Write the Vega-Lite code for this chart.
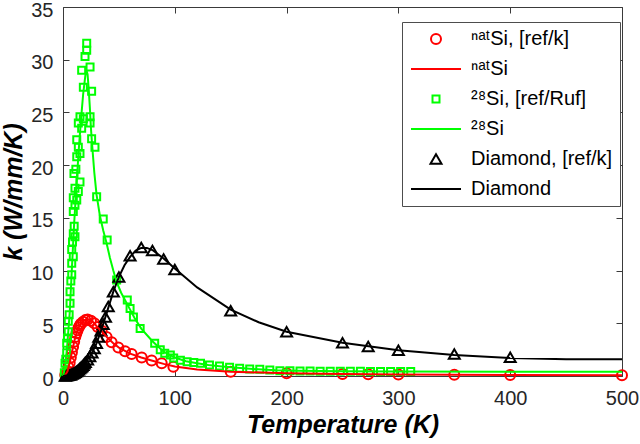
{
  "$schema": "https://vega.github.io/schema/vega-lite/v6.json",
  "width": 559,
  "height": 369,
  "autosize": {"type": "none"},
  "padding": {"left": 63, "top": 7, "right": 18, "bottom": 68},
  "background": "white",
  "datasets": {
    "measured": [
      {"series": "ⁿᵃᵗSi, [ref/k]", "T": 2, "k": 0.1}, {"series": "ⁿᵃᵗSi, [ref/k]", "T": 3, "k": 0.2},
      {"series": "ⁿᵃᵗSi, [ref/k]", "T": 4, "k": 0.45}, {"series": "ⁿᵃᵗSi, [ref/k]", "T": 5, "k": 0.8},
      {"series": "ⁿᵃᵗSi, [ref/k]", "T": 6, "k": 1.25}, {"series": "ⁿᵃᵗSi, [ref/k]", "T": 7, "k": 1.75},
      {"series": "ⁿᵃᵗSi, [ref/k]", "T": 8, "k": 2.25}, {"series": "ⁿᵃᵗSi, [ref/k]", "T": 9, "k": 2.75},
      {"series": "ⁿᵃᵗSi, [ref/k]", "T": 10, "k": 3.25}, {"series": "ⁿᵃᵗSi, [ref/k]", "T": 11, "k": 3.7},
      {"series": "ⁿᵃᵗSi, [ref/k]", "T": 12, "k": 4.05}, {"series": "ⁿᵃᵗSi, [ref/k]", "T": 13, "k": 4.35},
      {"series": "ⁿᵃᵗSi, [ref/k]", "T": 14, "k": 4.6}, {"series": "ⁿᵃᵗSi, [ref/k]", "T": 15, "k": 4.8},
      {"series": "ⁿᵃᵗSi, [ref/k]", "T": 16, "k": 4.95}, {"series": "ⁿᵃᵗSi, [ref/k]", "T": 18, "k": 5.15},
      {"series": "ⁿᵃᵗSi, [ref/k]", "T": 20, "k": 5.3}, {"series": "ⁿᵃᵗSi, [ref/k]", "T": 22, "k": 5.35},
      {"series": "ⁿᵃᵗSi, [ref/k]", "T": 25, "k": 5.25}, {"series": "ⁿᵃᵗSi, [ref/k]", "T": 28, "k": 5.0},
      {"series": "ⁿᵃᵗSi, [ref/k]", "T": 31, "k": 4.65}, {"series": "ⁿᵃᵗSi, [ref/k]", "T": 34.6, "k": 4.3},
      {"series": "ⁿᵃᵗSi, [ref/k]", "T": 39, "k": 3.7}, {"series": "ⁿᵃᵗSi, [ref/k]", "T": 43.5, "k": 3.2},
      {"series": "ⁿᵃᵗSi, [ref/k]", "T": 49.5, "k": 2.7}, {"series": "ⁿᵃᵗSi, [ref/k]", "T": 55.5, "k": 2.35},
      {"series": "ⁿᵃᵗSi, [ref/k]", "T": 61.4, "k": 2.08}, {"series": "ⁿᵃᵗSi, [ref/k]", "T": 70.4, "k": 1.75},
      {"series": "ⁿᵃᵗSi, [ref/k]", "T": 79.3, "k": 1.48}, {"series": "ⁿᵃᵗSi, [ref/k]", "T": 88.3, "k": 1.2},
      {"series": "ⁿᵃᵗSi, [ref/k]", "T": 98.7, "k": 0.88}, {"series": "ⁿᵃᵗSi, [ref/k]", "T": 150, "k": 0.41},
      {"series": "ⁿᵃᵗSi, [ref/k]", "T": 200, "k": 0.26}, {"series": "ⁿᵃᵗSi, [ref/k]", "T": 250, "k": 0.19},
      {"series": "ⁿᵃᵗSi, [ref/k]", "T": 273, "k": 0.17}, {"series": "ⁿᵃᵗSi, [ref/k]", "T": 300, "k": 0.15},
      {"series": "ⁿᵃᵗSi, [ref/k]", "T": 350, "k": 0.12}, {"series": "ⁿᵃᵗSi, [ref/k]", "T": 400, "k": 0.1},
      {"series": "ⁿᵃᵗSi, [ref/k]", "T": 500, "k": 0.08},

      {"series": "²⁸Si, [ref/Ruf]", "T": 1.2, "k": 0.3}, {"series": "²⁸Si, [ref/Ruf]", "T": 1.8, "k": 1.2},
      {"series": "²⁸Si, [ref/Ruf]", "T": 2.5, "k": 1.6}, {"series": "²⁸Si, [ref/Ruf]", "T": 3.3, "k": 2.2},
      {"series": "²⁸Si, [ref/Ruf]", "T": 3.3, "k": 3.1}, {"series": "²⁸Si, [ref/Ruf]", "T": 4, "k": 3.6},
      {"series": "²⁸Si, [ref/Ruf]", "T": 4.7, "k": 4.2}, {"series": "²⁸Si, [ref/Ruf]", "T": 4.7, "k": 5.2},
      {"series": "²⁸Si, [ref/Ruf]", "T": 5.5, "k": 5.8}, {"series": "²⁸Si, [ref/Ruf]", "T": 6.3, "k": 6.9},
      {"series": "²⁸Si, [ref/Ruf]", "T": 6.3, "k": 8.0}, {"series": "²⁸Si, [ref/Ruf]", "T": 7, "k": 9.0},
      {"series": "²⁸Si, [ref/Ruf]", "T": 7.8, "k": 9.6}, {"series": "²⁸Si, [ref/Ruf]", "T": 7.8, "k": 10.7},
      {"series": "²⁸Si, [ref/Ruf]", "T": 9.2, "k": 11.3}, {"series": "²⁸Si, [ref/Ruf]", "T": 7.8, "k": 12.0},
      {"series": "²⁸Si, [ref/Ruf]", "T": 8.5, "k": 12.7}, {"series": "²⁸Si, [ref/Ruf]", "T": 9.2, "k": 13.5},
      {"series": "²⁸Si, [ref/Ruf]", "T": 10.7, "k": 13.2}, {"series": "²⁸Si, [ref/Ruf]", "T": 10, "k": 14.2},
      {"series": "²⁸Si, [ref/Ruf]", "T": 9.2, "k": 15.6}, {"series": "²⁸Si, [ref/Ruf]", "T": 9.2, "k": 16.9},
      {"series": "²⁸Si, [ref/Ruf]", "T": 10.7, "k": 16.2}, {"series": "²⁸Si, [ref/Ruf]", "T": 12.3, "k": 16.7},
      {"series": "²⁸Si, [ref/Ruf]", "T": 10.7, "k": 17.8}, {"series": "²⁸Si, [ref/Ruf]", "T": 13.7, "k": 17.5},
      {"series": "²⁸Si, [ref/Ruf]", "T": 15.2, "k": 18.4}, {"series": "²⁸Si, [ref/Ruf]", "T": 9.8, "k": 19.2},
      {"series": "²⁸Si, [ref/Ruf]", "T": 11.5, "k": 19.6}, {"series": "²⁸Si, [ref/Ruf]", "T": 12.3, "k": 20.8},
      {"series": "²⁸Si, [ref/Ruf]", "T": 15.2, "k": 21.1}, {"series": "²⁸Si, [ref/Ruf]", "T": 13.7, "k": 21.7},
      {"series": "²⁸Si, [ref/Ruf]", "T": 12.3, "k": 22.4}, {"series": "²⁸Si, [ref/Ruf]", "T": 16.7, "k": 23.5},
      {"series": "²⁸Si, [ref/Ruf]", "T": 13.7, "k": 24.0}, {"series": "²⁸Si, [ref/Ruf]", "T": 15.2, "k": 24.6},
      {"series": "²⁸Si, [ref/Ruf]", "T": 18.2, "k": 24.4}, {"series": "²⁸Si, [ref/Ruf]", "T": 18.2, "k": 27.4},
      {"series": "²⁸Si, [ref/Ruf]", "T": 16.7, "k": 29.0}, {"series": "²⁸Si, [ref/Ruf]", "T": 19.7, "k": 30.3},
      {"series": "²⁸Si, [ref/Ruf]", "T": 21.2, "k": 30.9}, {"series": "²⁸Si, [ref/Ruf]", "T": 21.2, "k": 31.55},
      {"series": "²⁸Si, [ref/Ruf]", "T": 24.2, "k": 29.3}, {"series": "²⁸Si, [ref/Ruf]", "T": 25.6, "k": 27.0},
      {"series": "²⁸Si, [ref/Ruf]", "T": 24.2, "k": 24.6}, {"series": "²⁸Si, [ref/Ruf]", "T": 24.2, "k": 24.0},
      {"series": "²⁸Si, [ref/Ruf]", "T": 25.6, "k": 22.5}, {"series": "²⁸Si, [ref/Ruf]", "T": 28.6, "k": 21.7},
      {"series": "²⁸Si, [ref/Ruf]", "T": 30.1, "k": 17.0}, {"series": "²⁸Si, [ref/Ruf]", "T": 36, "k": 14.9},
      {"series": "²⁸Si, [ref/Ruf]", "T": 39.5, "k": 12.9}, {"series": "²⁸Si, [ref/Ruf]", "T": 48, "k": 9.1},
      {"series": "²⁸Si, [ref/Ruf]", "T": 57.5, "k": 7.2}, {"series": "²⁸Si, [ref/Ruf]", "T": 60, "k": 6.4},
      {"series": "²⁸Si, [ref/Ruf]", "T": 63, "k": 5.6}, {"series": "²⁸Si, [ref/Ruf]", "T": 69, "k": 4.5},
      {"series": "²⁸Si, [ref/Ruf]", "T": 82, "k": 3.1}, {"series": "²⁸Si, [ref/Ruf]", "T": 87, "k": 2.5},
      {"series": "²⁸Si, [ref/Ruf]", "T": 91, "k": 2.15}, {"series": "²⁸Si, [ref/Ruf]", "T": 96, "k": 2.0},
      {"series": "²⁸Si, [ref/Ruf]", "T": 99, "k": 1.7}, {"series": "²⁸Si, [ref/Ruf]", "T": 105, "k": 1.5},
      {"series": "²⁸Si, [ref/Ruf]", "T": 111, "k": 1.36}, {"series": "²⁸Si, [ref/Ruf]", "T": 117, "k": 1.28},
      {"series": "²⁸Si, [ref/Ruf]", "T": 123, "k": 1.2}, {"series": "²⁸Si, [ref/Ruf]", "T": 131, "k": 1.04},
      {"series": "²⁸Si, [ref/Ruf]", "T": 140, "k": 0.95}, {"series": "²⁸Si, [ref/Ruf]", "T": 149, "k": 0.82},
      {"series": "²⁸Si, [ref/Ruf]", "T": 158, "k": 0.73}, {"series": "²⁸Si, [ref/Ruf]", "T": 167, "k": 0.66},
      {"series": "²⁸Si, [ref/Ruf]", "T": 176, "k": 0.63}, {"series": "²⁸Si, [ref/Ruf]", "T": 185, "k": 0.57},
      {"series": "²⁸Si, [ref/Ruf]", "T": 194, "k": 0.5}, {"series": "²⁸Si, [ref/Ruf]", "T": 203, "k": 0.5},
      {"series": "²⁸Si, [ref/Ruf]", "T": 212, "k": 0.48}, {"series": "²⁸Si, [ref/Ruf]", "T": 221, "k": 0.47},
      {"series": "²⁸Si, [ref/Ruf]", "T": 230, "k": 0.46}, {"series": "²⁸Si, [ref/Ruf]", "T": 239, "k": 0.45},
      {"series": "²⁸Si, [ref/Ruf]", "T": 248, "k": 0.45}, {"series": "²⁸Si, [ref/Ruf]", "T": 257, "k": 0.44},
      {"series": "²⁸Si, [ref/Ruf]", "T": 266, "k": 0.44}, {"series": "²⁸Si, [ref/Ruf]", "T": 275, "k": 0.43},
      {"series": "²⁸Si, [ref/Ruf]", "T": 284, "k": 0.43}, {"series": "²⁸Si, [ref/Ruf]", "T": 293, "k": 0.42},
      {"series": "²⁸Si, [ref/Ruf]", "T": 302, "k": 0.42}, {"series": "²⁸Si, [ref/Ruf]", "T": 311, "k": 0.42},

      {"series": "Diamond, [ref/k]", "T": 2, "k": 0.01}, {"series": "Diamond, [ref/k]", "T": 3, "k": 0.02},
      {"series": "Diamond, [ref/k]", "T": 4, "k": 0.04}, {"series": "Diamond, [ref/k]", "T": 5, "k": 0.06},
      {"series": "Diamond, [ref/k]", "T": 6, "k": 0.09}, {"series": "Diamond, [ref/k]", "T": 7, "k": 0.13},
      {"series": "Diamond, [ref/k]", "T": 8, "k": 0.18}, {"series": "Diamond, [ref/k]", "T": 9, "k": 0.23},
      {"series": "Diamond, [ref/k]", "T": 10, "k": 0.29}, {"series": "Diamond, [ref/k]", "T": 11, "k": 0.36},
      {"series": "Diamond, [ref/k]", "T": 12, "k": 0.43}, {"series": "Diamond, [ref/k]", "T": 13, "k": 0.51},
      {"series": "Diamond, [ref/k]", "T": 14, "k": 0.6}, {"series": "Diamond, [ref/k]", "T": 15, "k": 0.7},
      {"series": "Diamond, [ref/k]", "T": 16, "k": 0.8}, {"series": "Diamond, [ref/k]", "T": 17, "k": 0.91},
      {"series": "Diamond, [ref/k]", "T": 18, "k": 1.03}, {"series": "Diamond, [ref/k]", "T": 19, "k": 1.16},
      {"series": "Diamond, [ref/k]", "T": 20, "k": 1.3}, {"series": "Diamond, [ref/k]", "T": 22, "k": 1.55},
      {"series": "Diamond, [ref/k]", "T": 24, "k": 1.85}, {"series": "Diamond, [ref/k]", "T": 26, "k": 2.2},
      {"series": "Diamond, [ref/k]", "T": 28, "k": 2.6}, {"series": "Diamond, [ref/k]", "T": 30, "k": 3.1},
      {"series": "Diamond, [ref/k]", "T": 32, "k": 3.7}, {"series": "Diamond, [ref/k]", "T": 34, "k": 4.3},
      {"series": "Diamond, [ref/k]", "T": 36, "k": 4.9}, {"series": "Diamond, [ref/k]", "T": 38, "k": 5.6},
      {"series": "Diamond, [ref/k]", "T": 40.5, "k": 6.6}, {"series": "Diamond, [ref/k]", "T": 45, "k": 8.0},
      {"series": "Diamond, [ref/k]", "T": 50, "k": 9.4}, {"series": "Diamond, [ref/k]", "T": 60, "k": 11.4},
      {"series": "Diamond, [ref/k]", "T": 70, "k": 12.2}, {"series": "Diamond, [ref/k]", "T": 80, "k": 11.9},
      {"series": "Diamond, [ref/k]", "T": 90, "k": 11.1}, {"series": "Diamond, [ref/k]", "T": 100, "k": 10.1},
      {"series": "Diamond, [ref/k]", "T": 150, "k": 6.2}, {"series": "Diamond, [ref/k]", "T": 200, "k": 4.2},
      {"series": "Diamond, [ref/k]", "T": 250, "k": 3.15}, {"series": "Diamond, [ref/k]", "T": 273, "k": 2.8},
      {"series": "Diamond, [ref/k]", "T": 300, "k": 2.45}, {"series": "Diamond, [ref/k]", "T": 350, "k": 2.08},
      {"series": "Diamond, [ref/k]", "T": 400, "k": 1.77}
    ],
    "model": [
      {"series": "ⁿᵃᵗSi", "T": 0, "k": 0}, {"series": "ⁿᵃᵗSi", "T": 2, "k": 0.1},
      {"series": "ⁿᵃᵗSi", "T": 4, "k": 0.45}, {"series": "ⁿᵃᵗSi", "T": 6, "k": 1.25},
      {"series": "ⁿᵃᵗSi", "T": 8, "k": 2.25}, {"series": "ⁿᵃᵗSi", "T": 10, "k": 3.25},
      {"series": "ⁿᵃᵗSi", "T": 12, "k": 4.05}, {"series": "ⁿᵃᵗSi", "T": 14, "k": 4.6},
      {"series": "ⁿᵃᵗSi", "T": 16, "k": 4.95}, {"series": "ⁿᵃᵗSi", "T": 18, "k": 5.2},
      {"series": "ⁿᵃᵗSi", "T": 20, "k": 5.35}, {"series": "ⁿᵃᵗSi", "T": 22, "k": 5.4},
      {"series": "ⁿᵃᵗSi", "T": 25, "k": 5.3}, {"series": "ⁿᵃᵗSi", "T": 28, "k": 5.0},
      {"series": "ⁿᵃᵗSi", "T": 31, "k": 4.6}, {"series": "ⁿᵃᵗSi", "T": 35, "k": 4.2},
      {"series": "ⁿᵃᵗSi", "T": 40, "k": 3.6}, {"series": "ⁿᵃᵗSi", "T": 45, "k": 3.1},
      {"series": "ⁿᵃᵗSi", "T": 50, "k": 2.7}, {"series": "ⁿᵃᵗSi", "T": 60, "k": 2.12},
      {"series": "ⁿᵃᵗSi", "T": 70, "k": 1.75}, {"series": "ⁿᵃᵗSi", "T": 80, "k": 1.45},
      {"series": "ⁿᵃᵗSi", "T": 90, "k": 1.15}, {"series": "ⁿᵃᵗSi", "T": 100, "k": 0.9},
      {"series": "ⁿᵃᵗSi", "T": 120, "k": 0.62}, {"series": "ⁿᵃᵗSi", "T": 150, "k": 0.41},
      {"series": "ⁿᵃᵗSi", "T": 200, "k": 0.26}, {"series": "ⁿᵃᵗSi", "T": 250, "k": 0.19},
      {"series": "ⁿᵃᵗSi", "T": 300, "k": 0.15}, {"series": "ⁿᵃᵗSi", "T": 400, "k": 0.1},
      {"series": "ⁿᵃᵗSi", "T": 500, "k": 0.08},

      {"series": "²⁸Si", "T": 0, "k": 0}, {"series": "²⁸Si", "T": 2, "k": 0.8},
      {"series": "²⁸Si", "T": 4, "k": 3.2}, {"series": "²⁸Si", "T": 6, "k": 6.0},
      {"series": "²⁸Si", "T": 8, "k": 10.3}, {"series": "²⁸Si", "T": 10, "k": 14.5},
      {"series": "²⁸Si", "T": 12, "k": 18.0}, {"series": "²⁸Si", "T": 14, "k": 21.3},
      {"series": "²⁸Si", "T": 16, "k": 24.2}, {"series": "²⁸Si", "T": 18, "k": 26.7},
      {"series": "²⁸Si", "T": 20, "k": 28.5}, {"series": "²⁸Si", "T": 21, "k": 29.0},
      {"series": "²⁸Si", "T": 22, "k": 28.6}, {"series": "²⁸Si", "T": 23, "k": 27.2},
      {"series": "²⁸Si", "T": 24, "k": 25.5}, {"series": "²⁸Si", "T": 25, "k": 23.5},
      {"series": "²⁸Si", "T": 26, "k": 22.0}, {"series": "²⁸Si", "T": 28, "k": 19.3},
      {"series": "²⁸Si", "T": 30, "k": 17.2}, {"series": "²⁸Si", "T": 33, "k": 15.2},
      {"series": "²⁸Si", "T": 36, "k": 13.8}, {"series": "²⁸Si", "T": 39, "k": 12.6},
      {"series": "²⁸Si", "T": 42, "k": 11.2}, {"series": "²⁸Si", "T": 45, "k": 10.0},
      {"series": "²⁸Si", "T": 48, "k": 8.9}, {"series": "²⁸Si", "T": 52, "k": 7.9},
      {"series": "²⁸Si", "T": 58, "k": 6.7}, {"series": "²⁸Si", "T": 64, "k": 5.5},
      {"series": "²⁸Si", "T": 70, "k": 4.5}, {"series": "²⁸Si", "T": 80, "k": 3.3},
      {"series": "²⁸Si", "T": 90, "k": 2.3}, {"series": "²⁸Si", "T": 100, "k": 1.75},
      {"series": "²⁸Si", "T": 110, "k": 1.4}, {"series": "²⁸Si", "T": 120, "k": 1.2},
      {"series": "²⁸Si", "T": 130, "k": 1.05}, {"series": "²⁸Si", "T": 140, "k": 0.93},
      {"series": "²⁸Si", "T": 150, "k": 0.82}, {"series": "²⁸Si", "T": 170, "k": 0.66},
      {"series": "²⁸Si", "T": 190, "k": 0.54}, {"series": "²⁸Si", "T": 210, "k": 0.49},
      {"series": "²⁸Si", "T": 250, "k": 0.45}, {"series": "²⁸Si", "T": 300, "k": 0.42},
      {"series": "²⁸Si", "T": 400, "k": 0.41}, {"series": "²⁸Si", "T": 500, "k": 0.4},

      {"series": "Diamond", "T": 0, "k": 0}, {"series": "Diamond", "T": 5, "k": 0.06},
      {"series": "Diamond", "T": 10, "k": 0.3}, {"series": "Diamond", "T": 15, "k": 0.7},
      {"series": "Diamond", "T": 20, "k": 1.3}, {"series": "Diamond", "T": 25, "k": 2.0},
      {"series": "Diamond", "T": 30, "k": 3.1}, {"series": "Diamond", "T": 35, "k": 4.6},
      {"series": "Diamond", "T": 40, "k": 6.3}, {"series": "Diamond", "T": 45, "k": 8.0},
      {"series": "Diamond", "T": 50, "k": 9.4}, {"series": "Diamond", "T": 55, "k": 10.5},
      {"series": "Diamond", "T": 60, "k": 11.3}, {"series": "Diamond", "T": 65, "k": 11.9},
      {"series": "Diamond", "T": 70, "k": 12.15}, {"series": "Diamond", "T": 75, "k": 12.15},
      {"series": "Diamond", "T": 80, "k": 11.95}, {"series": "Diamond", "T": 90, "k": 11.15},
      {"series": "Diamond", "T": 100, "k": 10.2}, {"series": "Diamond", "T": 120, "k": 8.4},
      {"series": "Diamond", "T": 150, "k": 6.3}, {"series": "Diamond", "T": 175, "k": 5.1},
      {"series": "Diamond", "T": 200, "k": 4.2}, {"series": "Diamond", "T": 250, "k": 3.15},
      {"series": "Diamond", "T": 300, "k": 2.45}, {"series": "Diamond", "T": 350, "k": 2.0},
      {"series": "Diamond", "T": 400, "k": 1.7}, {"series": "Diamond", "T": 450, "k": 1.6},
      {"series": "Diamond", "T": 500, "k": 1.58}
    ]
  },
  "config": {
    "view": {"stroke": null},
    "axis": {
      "grid": false,
      "labelFlush": false,
      "domainColor": "#3a3a3a",
      "domainWidth": 1,
      "tickColor": "#3a3a3a",
      "tickWidth": 1,
      "tickSize": -6,
      "labelFont": "Liberation Sans",
      "labelFontSize": 20,
      "labelColor": "#262626",
      "titleFont": "Liberation Sans",
      "titleFontSize": 25,
      "titleFontWeight": "bold",
      "titleFontStyle": "italic",
      "titleColor": "#000000"
    }
  },
  "layer": [
    {
      "data": {"name": "measured"},
      "mark": {"type": "point", "filled": false, "size": 100, "strokeWidth": 2, "opacity": 1},
      "encoding": {
        "x": {
          "field": "T", "type": "quantitative",
          "scale": {"domain": [0, 500], "nice": false},
          "axis": {"orient": "bottom", "title": "Temperature (K)", "values": [0, 100, 200, 300, 400, 500], "labelPadding": 18, "titlePadding": 4}
        },
        "y": {
          "field": "k", "type": "quantitative",
          "scale": {"domain": [0, 35], "nice": false},
          "axis": {"orient": "left", "title": "k (W/mm/K)", "values": [0, 5, 10, 15, 20, 25, 30, 35], "labelPadding": 16, "labelOffset": 3, "titlePadding": 4}
        },
        "color": {
          "field": "series", "type": "nominal",
          "scale": {
            "domain": ["ⁿᵃᵗSi, [ref/k]", "ⁿᵃᵗSi", "²⁸Si, [ref/Ruf]", "²⁸Si", "Diamond, [ref/k]", "Diamond"],
            "range": ["#ff0000", "#ff0000", "#00ff00", "#00ff00", "#000000", "#000000"]
          },
          "legend": {
            "title": null, "orient": "none", "legendX": 339, "legendY": 15, "direction": "vertical",
            "padding": 7, "strokeColor": "#4d4d4d", "fillColor": "white",
            "labelFont": "Liberation Sans", "labelFontSize": 20, "labelColor": "#000000", "labelLimit": 400,
            "symbolOffset": 17, "labelOffset": 25, "rowPadding": 10, "symbolStrokeWidth": 2, "symbolSize": 100
          }
        },
        "shape": {
          "field": "series", "type": "nominal",
          "scale": {
            "domain": ["ⁿᵃᵗSi, [ref/k]", "ⁿᵃᵗSi", "²⁸Si, [ref/Ruf]", "²⁸Si", "Diamond, [ref/k]", "Diamond"],
            "range": ["circle", "M-5,0L5,0", "M-0.7,-0.7L0.7,-0.7L0.7,0.7L-0.7,0.7Z", "M-5,0L5,0", "M0,-0.95L1.1,0.95L-1.1,0.95Z", "M-5,0L5,0"]
          },
          "legend": {
            "title": null, "orient": "none", "legendX": 339, "legendY": 15, "direction": "vertical",
            "padding": 7, "strokeColor": "#4d4d4d", "fillColor": "white",
            "labelFont": "Liberation Sans", "labelFontSize": 20, "labelColor": "#000000", "labelLimit": 400,
            "symbolOffset": 17, "labelOffset": 25, "rowPadding": 10, "symbolStrokeWidth": 2, "symbolSize": 100
          }
        }
      }
    },
    {
      "data": {"name": "model"},
      "mark": {"type": "line", "strokeWidth": 2},
      "encoding": {
        "x": {
          "field": "T", "type": "quantitative",
          "axis": {"orient": "top", "title": null, "labels": false, "values": [0, 100, 200, 300, 400, 500]}
        },
        "y": {
          "field": "k", "type": "quantitative",
          "axis": {"orient": "right", "title": null, "labels": false, "values": [0, 5, 10, 15, 20, 25, 30, 35]}
        },
        "color": {"field": "series", "type": "nominal", "legend": null}
      }
    }
  ],
  "resolve": {"axis": {"x": "independent", "y": "independent"}}
}
